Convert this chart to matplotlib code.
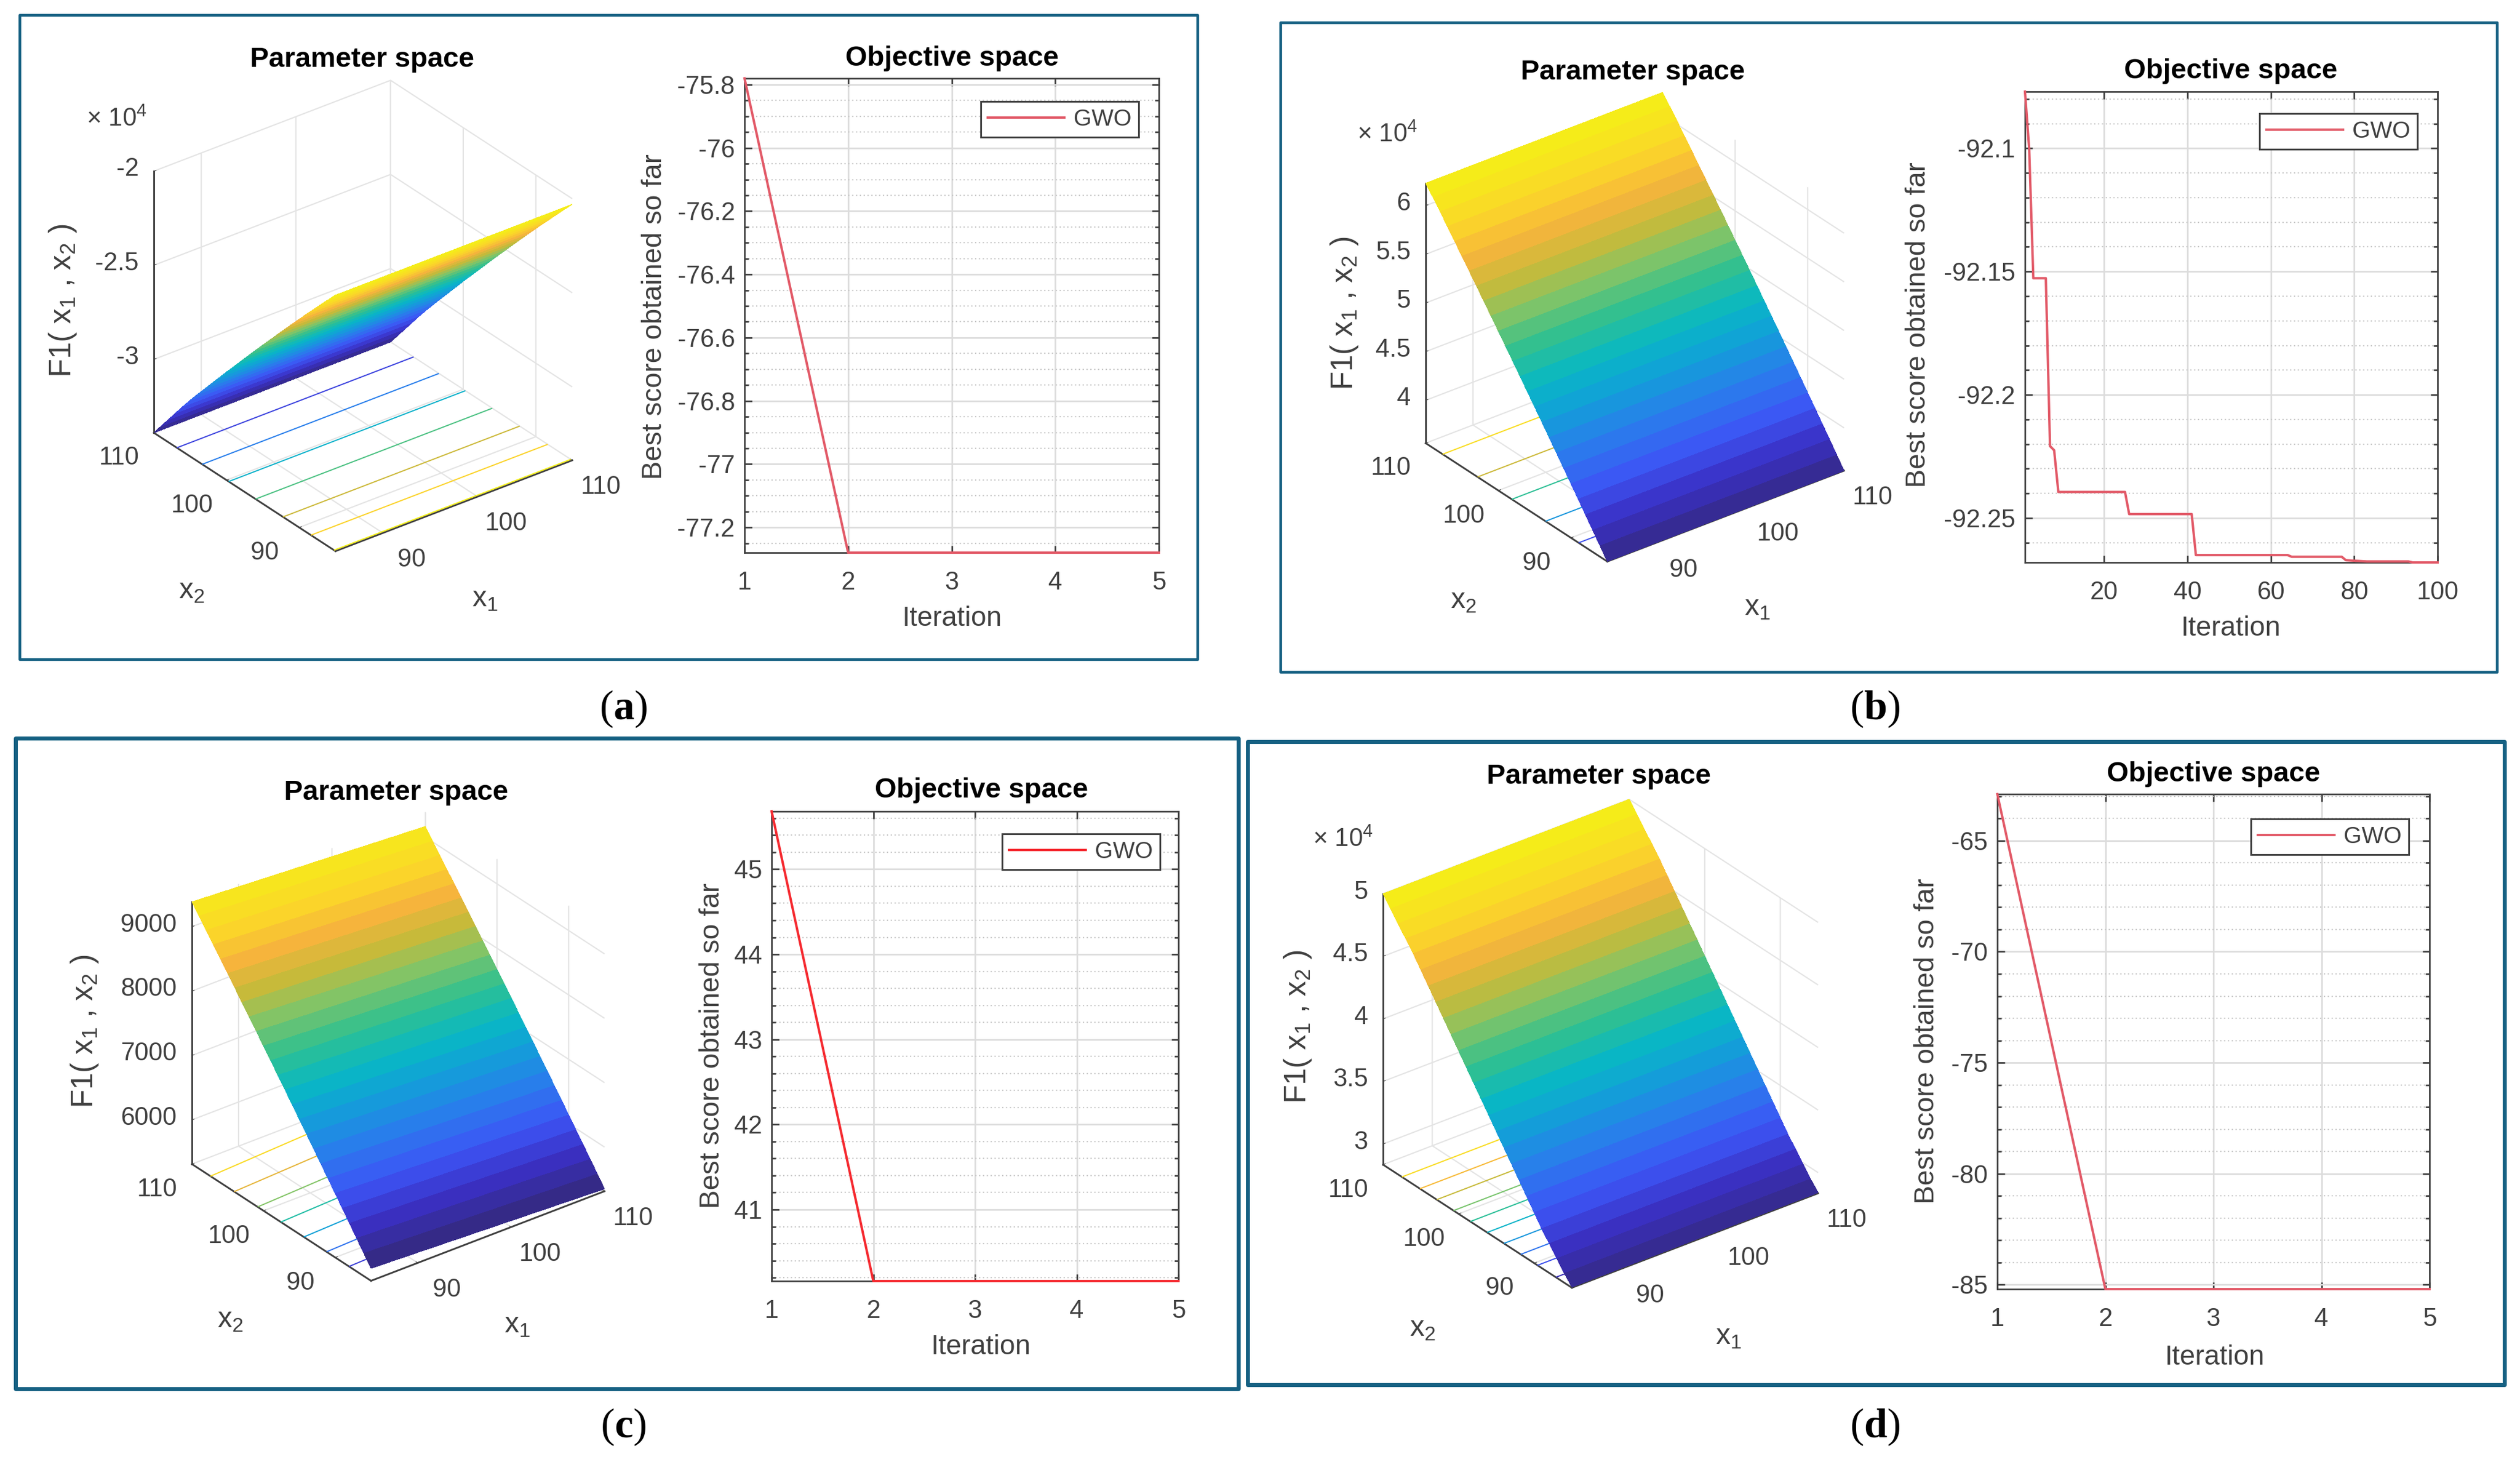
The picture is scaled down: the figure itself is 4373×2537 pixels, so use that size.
import numpy as np;
import matplotlib;
matplotlib.use("Agg");
import matplotlib.pyplot as plt;
from matplotlib.colors import LinearSegmentedColormap;
from matplotlib.patches import Rectangle;
from matplotlib.ticker import MultipleLocator, FixedLocator, FuncFormatter;
from mpl_toolkits.mplot3d import proj3d;

plt.rcParams['font.family'] = ['Liberation Sans', 'DejaVu Sans'];
plt.rcParams['axes.unicode_minus'] = False;
plt.rcParams['mathtext.fontset'] = 'custom';
plt.rcParams['mathtext.rm'] = 'Liberation Sans';
plt.rcParams['mathtext.it'] = 'Liberation Sans:italic';
plt.rcParams['mathtext.bf'] = 'Liberation Serif:bold';
plt.rcParams['mathtext.default'] = 'rm';

# data
x1_grid = [85, 110];
x2_grid = [85, 86, 87, 88, 89, 90, 91, 92, 93, 94, 95, 96, 97, 98, 99, 100, 101, 102, 103, 104, 105, 106, 107, 108, 109, 110];
z_a = [-2.03, -2.08, -2.13, -2.181, -2.232, -2.284, -2.336, -2.388, -2.441, -2.494, -2.547, -2.60, -2.654,
       -2.708, -2.762, -2.816, -2.871, -2.926, -2.981, -3.036, -3.092, -3.15, -3.21, -3.27, -3.33, -3.39];
z_b = [3.56, 3.672, 3.784, 3.895, 4.006, 4.116, 4.226, 4.336, 4.445, 4.554, 4.662, 4.77, 4.878,
       4.985, 5.092, 5.198, 5.304, 5.41, 5.515, 5.62, 5.724, 5.828, 5.932, 6.035, 6.135, 6.23];
z_c = [5507, 5668, 5829, 5989, 6149, 6308, 6467, 6625, 6783, 6940, 7097, 7253, 7409,
       7564, 7719, 7873, 8027, 8180, 8333, 8485, 8637, 8788, 8939, 9089, 9239, 9386];
# panel (c) tilts a little along x1, this is the far edge at x1 = 110
z_c_far = [5350, 5508, 5666, 5823, 5979, 6135, 6291, 6446, 6601, 6755, 6909, 7062, 7215,
           7367, 7519, 7670, 7821, 7971, 8121, 8270, 8419, 8567, 8715, 8862, 9009, 9166];
z_d = [2.84, 2.91, 2.99, 3.07, 3.15, 3.24, 3.33, 3.42, 3.51, 3.60, 3.69, 3.78, 3.87,
       3.96, 4.05, 4.14, 4.23, 4.32, 4.41, 4.50, 4.59, 4.68, 4.76, 4.84, 4.92, 5.00];
levels_a = [-3.2, -3.0, -2.8, -2.6, -2.4, -2.2, -2.04];
levels_b = [4.0, 4.5, 5.0, 5.5, 6.0];
levels_c = [6000, 6500, 7000, 7500, 8000, 8500, 9000];
levels_d = [3.0, 3.2, 3.4, 3.6, 3.8, 4.0, 4.2, 4.4, 4.6, 4.8];
zticks_a = [-3, -2.5, -2];
zticks_b = [4, 4.5, 5, 5.5, 6];
zticks_c = [6000, 7000, 8000, 9000];
zticks_d = [3, 3.5, 4, 4.5, 5];
zlim_a = [-3.39, -2.0];
zlim_b = [3.56, 6.23];
zlim_c = [5314, 9386];
zlim_d = [2.835, 5.0];
x_ticks_3d = [90, 100, 110];

iter_a = [1, 2, 3, 4, 5];
best_a = [-75.78, -77.28, -77.28, -77.28, -77.28];
iter_b = [1, 2, 3, 6, 7, 8, 9, 25, 26, 41, 42, 64, 65, 77, 78, 83, 93, 94, 100];
best_b = [-92.077, -92.10, -92.1527, -92.1527, -92.2208, -92.2225, -92.2394, -92.2394, -92.2484, -92.2484,
          -92.2650, -92.2650, -92.2657, -92.2657, -92.2671, -92.2676, -92.2676, -92.2680, -92.2680];
iter_c = [1, 2, 3, 4, 5];
best_c = [45.68, 40.16, 40.16, 40.16, 40.16];
iter_d = [1, 2, 3, 4, 5];
best_d = [-62.9, -85.2, -85.2, -85.2, -85.2];
yticks_a = [-77.2, -77, -76.8, -76.6, -76.4, -76.2, -76, -75.8];
yticks_b = [-92.25, -92.2, -92.15, -92.1];
yticks_c = [41, 42, 43, 44, 45];
yticks_d = [-85, -80, -75, -70, -65];
ylim_a = [-77.28, -75.78];
ylim_b = [-92.268, -92.077];
ylim_c = [40.16, 45.68];
ylim_d = [-85.2, -62.9];
xticks_a = [1, 2, 3, 4, 5];
xticks_b = [20, 40, 60, 80, 100];
xlim_a = [1, 5];
xlim_b = [1, 100];

W, H = 4373, 2537;
TEXT = '#404040';
FRAME = '#156082';
GRID = '#e4e4e4';

parula = LinearSegmentedColormap.from_list('parula', [
    (0.00, '#352a87'), (0.09, '#3a30c4'), (0.18, '#3d55f5'), (0.28, '#2a7cec'),
    (0.38, '#12a0d8'), (0.46, '#08b8c4'), (0.55, '#30c090'), (0.64, '#80c468'),
    (0.72, '#c6ba3a'), (0.80, '#f6b43c'), (0.88, '#fbd52a'), (1.00, '#f4f016')]);

fig = plt.figure(figsize=(W / 100, H / 100), dpi=100, facecolor='white');

def ftext(px, py, s, **kw):
    kw.setdefault('ha', 'center');
    kw.setdefault('va', 'center');
    kw.setdefault('color', TEXT);
    return fig.text(px / W, 1 - py / H, s, **kw);

def frame(l, t, r, b, lw):
    fig.add_artist(Rectangle((l / W, 1 - b / H), (r - l) / W, (b - t) / H, transform=fig.transFigure,
                             fill=False, ec=FRAME, lw=lw, joinstyle='round', zorder=20));

def corner_px(ax, x, y, z):
    ax.apply_aspect();
    xs, ys, _ = proj3d.proj_transform(x, y, z, ax.get_proj());
    p = ax.transData.transform((xs, ys));
    return p[0], H - p[1];

def fit_box(ax, L, R, T, zlim):
    # move the 3D axes until its box corners land on the wanted pixels
    bz = 1.0;
    size = 800.0;
    cx, cy = L[0] + 350, L[1] - 200;
    for _ in range(6):
        ax.set_box_aspect((1, 1, bz));
        ax.set_position([(cx - size / 2) / W, 1 - (cy + size / 2) / H, size / W, size / H]);
        a = corner_px(ax, 85, 110, zlim[0]);
        b = corner_px(ax, 110, 85, zlim[0]);
        c = corner_px(ax, 85, 110, zlim[1]);
        size *= (R[0] - L[0]) / (b[0] - a[0]);
        bz *= ((L[1] - T[1]) / (R[0] - L[0])) / ((a[1] - c[1]) / (b[0] - a[0]));
        cx += L[0] - a[0];
        cy += L[1] - a[1];
    ax.set_position([(cx - size / 2) / W, 1 - (cy + size / 2) / H, size / W, size / H]);

def surface_panel(z, z_far, levels, zticks, zlim, L, R, T, title_at, x1_at, x2_at, f1_at, mult_at):
    ax = fig.add_axes([0.1, 0.1, 0.2, 0.2], projection='3d', proj_type='ortho', computed_zorder=False);
    ax.patch.set_alpha(0);
    ax.view_init(elev=30, azim=-127.5);
    X, Y = np.meshgrid(x1_grid, x2_grid);
    Z = np.column_stack([z, z_far]);
    ax.contour(X, Y, Z, levels=levels, zdir='z', offset=zlim[0], cmap=parula,
               vmin=min(z), vmax=max(z), linewidths=1.5, zorder=1);
    ax.plot_surface(X, Y, Z, cmap=parula, vmin=min(z), vmax=max(z), rstride=1, cstride=1,
                    linewidth=0, antialiased=False, shade=False, zorder=3);
    ax.set_xlim(85, 110);
    ax.set_ylim(85, 110);
    ax.set_zlim(zlim);
    ax.set_xticks(x_ticks_3d);
    ax.set_yticks(x_ticks_3d);
    ax.set_zticks(zticks);
    ax.set_xticklabels([]);
    ax.set_yticklabels([]);
    ax.set_zticklabels([]);
    for axis in (ax.xaxis, ax.yaxis, ax.zaxis):
        axis.set_pane_color((1, 1, 1, 0));
        axis.pane.set_edgecolor(GRID);
        axis.pane.set_linewidth(1.6);
        axis._axinfo['grid'].update(color=GRID, linewidth=1.6);
        axis._axinfo['tick'].update(inward_factor=0.0, outward_factor=0.12);
        axis.line.set_color(TEXT);
        axis.line.set_linewidth(2.2);
    ax.tick_params(axis='both', colors=TEXT);
    ax.tick_params(axis='z', colors=TEXT);
    fit_box(ax, L, R, T, zlim);
    # tick labels sit at fixed pixel offsets from the projected ticks
    for v in x_ticks_3d:
        p = corner_px(ax, v, 85, zlim[0]);
        ftext(p[0] + 50, p[1] + 47, f'{v}', fontsize=31.5);
        p = corner_px(ax, 85, v, zlim[0]);
        ftext(p[0] - 60, p[1] + 44, f'{v}', fontsize=31.5);
    for v in zticks:
        p = corner_px(ax, 85, 110, v);
        ftext(p[0] - 26, p[1] - 3, f'{v:g}', fontsize=31.5, ha='right');
    ftext(*title_at, 'Parameter space', fontsize=35, fontweight='bold', color='black');
    ftext(*x1_at, 'x$_1$', fontsize=36);
    ftext(*x2_at, 'x$_2$', fontsize=36);
    ftext(*f1_at, 'F1( x$_1$ , x$_2$ )', fontsize=38, rotation=90);
    if mult_at is not None:
        ftext(*mult_at, '× 10$^4$', fontsize=31.5);
    return ax;

def score_panel(its, best, color, xticks, xlim, yticks, ylim, minor, box, title_at, xlab_at, ylab_at, leg_right_top):
    l, t, r, b = box;
    ax = fig.add_axes([l / W, 1 - b / H, (r - l) / W, (b - t) / H]);
    ax.plot(its, best, color=color, lw=3, label='GWO', clip_on=False, zorder=4);
    ax.set_xlim(xlim);
    ax.set_ylim(ylim);
    ax.xaxis.set_major_locator(FixedLocator(xticks));
    ax.yaxis.set_major_locator(FixedLocator(yticks));
    ax.yaxis.set_major_formatter(FuncFormatter(lambda v, _: f'{v:g}'));
    ax.yaxis.set_minor_locator(MultipleLocator(minor));
    ax.grid(which='major', color='#dcdcdc', lw=2);
    ax.grid(which='minor', axis='y', color='#c8c8c8', lw=1.6, ls=(0, (1, 2)));
    ax.set_axisbelow(True);
    ax.tick_params(which='major', direction='in', top=True, right=True, length=9, width=2,
                   color=TEXT, labelcolor=TEXT, labelsize=31.5);
    ax.tick_params(axis='x', which='major', pad=23);
    ax.tick_params(axis='y', which='major', pad=12);
    ax.tick_params(which='minor', direction='in', left=True, right=True, length=5, width=2, color=TEXT);
    for s in ax.spines.values():
        s.set_color(TEXT);
        s.set_linewidth(2);
    ax.set_title('Objective space', fontsize=35, fontweight='bold', color='black', pad=0,
                 x=(title_at[0] - l) / (r - l), y=(b - title_at[1]) / (b - t), va='center');
    ax.set_xlabel('Iteration', fontsize=34.5, color=TEXT);
    ax.xaxis.set_label_coords((xlab_at[0] - l) / (r - l), (b - xlab_at[1]) / (b - t));
    ax.xaxis.label.set_va('center');
    ax.set_ylabel('Best score obtained so far', fontsize=35, color=TEXT);
    ax.yaxis.set_label_coords((ylab_at[0] - l) / (r - l), (b - ylab_at[1]) / (b - t));
    ax.yaxis.label.set_va('center');
    leg = ax.legend(loc='upper right', bbox_to_anchor=((leg_right_top[0] - l) / (r - l), (b - leg_right_top[1]) / (b - t)),
                    fontsize=29, frameon=True, fancybox=False, framealpha=1, edgecolor=TEXT,
                    handlelength=3.3, handletextpad=0.4, borderpad=0.3, borderaxespad=0, labelcolor=TEXT);
    leg.get_frame().set_linewidth(2.2);
    return ax;

# left column of each figure panel
surface_panel(z_a, z_a, levels_a, zticks_a, zlim_a, (267, 751), (993, 803), (267, 297),
              (628, 104), (842, 1040), (333, 1026), (109, 522), (202, 207));
surface_panel(z_b, z_b, levels_b, zticks_b, zlim_b, (2474, 769), (3200, 823), (2474, 318),
              (2833, 125), (3050, 1055), (2540, 1043), (2333, 544), (2407, 234));
surface_panel(z_c, z_c_far, levels_c, zticks_c, zlim_c, (333, 2020), (1049, 2069), (333, 1565),
              (687, 1375), (898, 2300), (400, 2291), (147, 1790), None);
surface_panel(z_d, z_d, levels_d, zticks_d, zlim_d, (2400, 2021), (3155, 2073), (2400, 1551),
              (2774, 1347), (3000, 2320), (2469, 2306), (2252, 1782), (2330, 1457));

score_panel(iter_a, best_a, '#e25a68', xticks_a, xlim_a, yticks_a, ylim_a, 0.05, (1292, 136, 2011, 959),
            (1652, 101), (1652, 1074), (1135, 550), (1976, 176));
score_panel(iter_b, best_b, '#e25a68', xticks_b, xlim_b, yticks_b, ylim_b, 0.01, (3514, 159, 4230, 976),
            (3871, 124), (3871, 1091), (3329, 564), (4195, 197));
score_panel(iter_c, best_c, '#f52a30', xticks_a, xlim_a, yticks_c, ylim_c, 0.2, (1339, 1408, 2045, 2223),
            (1703, 1372), (1702, 2337), (1236, 1815), (2013, 1447));
score_panel(iter_d, best_d, '#e25a68', xticks_a, xlim_a, yticks_d, ylim_d, 1, (3466, 1378, 4216, 2237),
            (3841, 1343), (3843, 2355), (3343, 1807), (4180, 1421));

frame(34, 26, 2078, 1144, 3.4);
frame(2222, 39, 4333, 1166, 3.4);
frame(27, 1281, 2149, 2410, 5);
frame(2165, 1287, 4346, 2403, 5);

for px, py, letter in [(1082, 1230, 'a'), (3254, 1230, 'b'), (1082, 2476, 'c'), (3254, 2476, 'd')]:
    ftext(px, py, rf'($\mathbf{{{letter}}}$)', fontsize=52, family='Liberation Serif', color='black');

fig.savefig('out.png', dpi=100);
